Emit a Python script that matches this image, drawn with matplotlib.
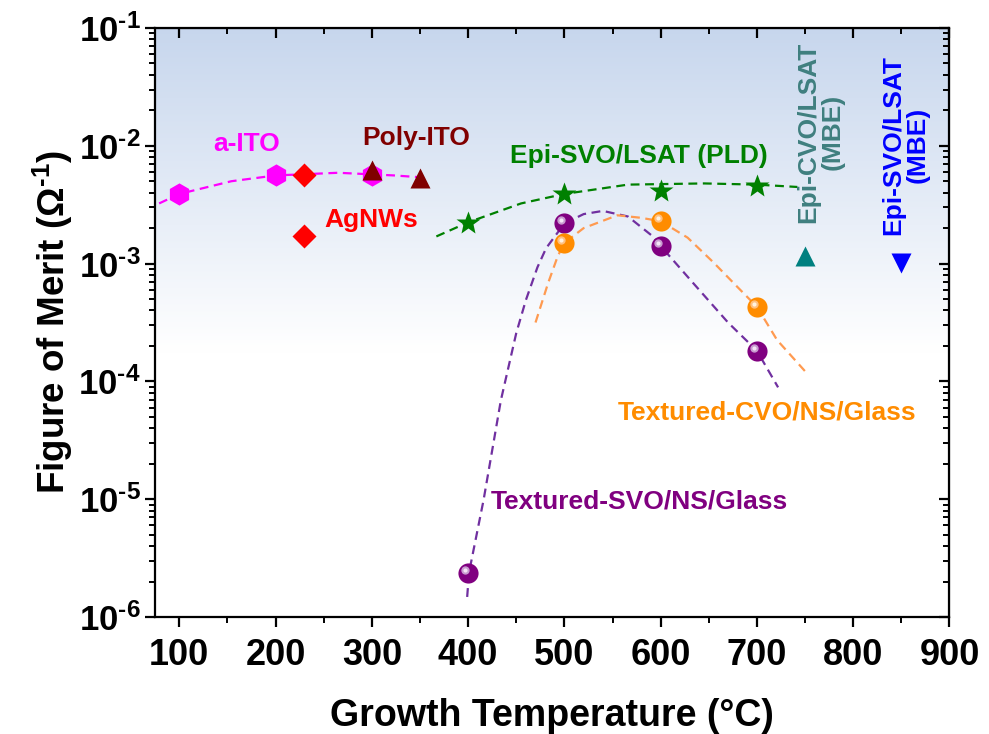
import numpy as np
import matplotlib
matplotlib.use("Agg")
import matplotlib.pyplot as plt
from matplotlib.ticker import LogLocator, MultipleLocator, FuncFormatter, NullFormatter
from matplotlib.transforms import offset_copy

plt.rcParams['font.family'] = ['Liberation Sans', 'DejaVu Sans']
plt.rcParams['font.weight'] = 'bold'
plt.rcParams['axes.labelweight'] = 'bold'
plt.rcParams['mathtext.fontset'] = 'custom'
plt.rcParams['mathtext.rm'] = 'Liberation Sans:bold'
plt.rcParams['mathtext.bf'] = 'Liberation Sans:bold'
plt.rcParams['mathtext.it'] = 'Liberation Sans:bold'

# measured points
ito_x = [100, 200, 300]
ito_y = [3.9e-3, 5.7e-3, 5.7e-3]
agnw_x = [230, 230]
agnw_y = [5.7e-3, 1.72e-3]
poly_x = [300, 350]
poly_y = [6.2e-3, 5.3e-3]
pld_x = [400, 500, 600, 700]
pld_y = [2.2e-3, 3.9e-3, 4.1e-3, 4.6e-3]
cvo_mbe_x = [750]
cvo_mbe_y = [1.17e-3]
svo_mbe_x = [850]
svo_mbe_y = [1.02e-3]
tsvo_x = [400, 500, 600, 700]
tsvo_y = [2.35e-6, 2.2e-3, 1.4e-3, 1.8e-4]
tcvo_x = [500, 600, 700]
tcvo_y = [1.5e-3, 2.3e-3, 4.3e-4]

# guide-to-the-eye curves
ito_fit_x = [79, 100, 154, 200, 265, 323, 351]
ito_fit_y = [3.24e-3, 3.9e-3, 5.0e-3, 5.6e-3, 5.9e-3, 5.6e-3, 5.4e-3]
pld_fit_x = [367, 400, 455, 500, 566, 645, 700, 742]
pld_fit_y = [1.70e-3, 2.24e-3, 3.24e-3, 3.9e-3, 4.68e-3, 4.79e-3, 4.68e-3, 4.47e-3]
tsvo_fit_x = [399, 401, 416, 425, 434, 450, 460, 472, 481, 500, 520, 540, 566, 590, 600, 634, 670, 700, 722]
tsvo_fit_y = [1.48e-6, 2.4e-6, 9.8e-6, 2.6e-5, 6.9e-5, 2.57e-4, 4.9e-4, 9.3e-4, 1.35e-3, 2.19e-3,
              2.63e-3, 2.8e-3, 2.51e-3, 1.75e-3, 1.41e-3, 6.8e-4, 3.16e-4, 1.82e-4, 8.9e-5]
tcvo_fit_x = [470, 483, 493, 500, 520, 555, 579, 600, 628, 655, 680, 700, 721, 752]
tcvo_fit_y = [3.16e-4, 6.8e-4, 1.15e-3, 1.5e-3, 2.0e-3, 2.57e-3, 2.45e-3, 2.29e-3, 1.66e-3,
              1.02e-3, 6.3e-4, 4.3e-4, 2.24e-4, 1.17e-4]

fig = plt.figure(figsize=(9.89, 7.34), dpi=100)
ax = fig.add_axes([0.157, 0.1594, 0.803, 0.8025])

# background gradient: white at bottom, light blue at top
h = np.linspace(0, 1, 256)
t = np.clip((h - 0.45) / 0.55, 0, 1)
top = np.array([0.78, 0.84, 0.93])
grad = (1 - t[:, None]) * np.array([1.0, 1.0, 1.0]) + t[:, None] * top
ax.imshow(grad[:, None, :], extent=[0, 1, 0, 1], transform=ax.transAxes,
          aspect='auto', origin='lower', zorder=0)

dash = (4, 2.5)
ax.plot(ito_fit_x, ito_fit_y, color='#ff00ff', lw=1.6, dashes=dash, zorder=2)
ax.plot(pld_fit_x, pld_fit_y, color='#008000', lw=1.6, dashes=dash, zorder=2)
ax.plot(tsvo_fit_x, tsvo_fit_y, color='#7030a0', lw=1.6, dashes=dash, zorder=2)
ax.plot(tcvo_fit_x, tcvo_fit_y, color='#ff9a50', lw=1.6, dashes=dash, zorder=2)

ax.plot(ito_x, ito_y, 'h', color='#ff00ff', ms=16, mec='none', zorder=3)
ax.plot(agnw_x, agnw_y, 'D', color='#ff0000', ms=12, mec='none', zorder=3)
ax.plot(poly_x, poly_y, '^', color='#800000', ms=14, mec='none', zorder=4)
ax.plot(pld_x, pld_y, '*', color='#008000', ms=18, mec='none', zorder=3)
ax.plot(cvo_mbe_x, cvo_mbe_y, '^', color='#008080', ms=15, mec='none', zorder=3)
ax.plot(svo_mbe_x, svo_mbe_y, 'v', color='#0000ff', ms=15, mec='none', zorder=3)

# spheres with a small highlight
hl = offset_copy(ax.transData, fig=fig, x=-3, y=3, units='dots')
ax.plot(tsvo_x, tsvo_y, 'o', color='#800080', ms=14.5, mec='none', zorder=4)
ax.plot(tsvo_x, tsvo_y, 'o', color='#c89ad0', ms=6, mec='none', zorder=5, transform=hl)
ax.plot(tsvo_x, tsvo_y, 'o', color='#f4e6f6', ms=3, mec='none', zorder=6, transform=hl)
ax.plot(tcvo_x, tcvo_y, 'o', color='#ff8c00', ms=14.5, mec='none', zorder=4)
ax.plot(tcvo_x, tcvo_y, 'o', color='#ffc080', ms=6, mec='none', zorder=5, transform=hl)
ax.plot(tcvo_x, tcvo_y, 'o', color='#fff2e0', ms=3, mec='none', zorder=6, transform=hl)

fs = 19
ax.text(170, 1.03e-2, 'a-ITO', color='#ff00ff', fontsize=fs, ha='center', va='center')
ax.text(346, 1.16e-2, 'Poly-ITO', color='#800000', fontsize=fs, ha='center', va='center')
ax.text(299, 2.35e-3, 'AgNWs', color='#ff0000', fontsize=fs, ha='center', va='center')
ax.text(577, 8.2e-3, 'Epi-SVO/LSAT (PLD)', color='#008000', fontsize=fs, ha='center', va='center')
ax.text(766, 1.3e-2, 'Epi-CVO/LSAT\n(MBE)', color='#3f7f7f', fontsize=fs, ha='center', va='center',
        rotation=90, linespacing=1.0)
ax.text(854, 1.02e-2, 'Epi-SVO/LSAT\n(MBE)', color='#0000ff', fontsize=fs, ha='center', va='center',
        rotation=90, linespacing=1.0)
ax.text(711, 5.4e-5, 'Textured-CVO/NS/Glass', color='#ff8c00', fontsize=fs, ha='center', va='center')
ax.text(578, 9.6e-6, 'Textured-SVO/NS/Glass', color='#800080', fontsize=fs, ha='center', va='center')

ax.set_yscale('log')
ax.set_xlim(75, 900)
ax.set_ylim(1e-6, 1e-1)

ax.xaxis.set_major_locator(MultipleLocator(100))
ax.xaxis.set_minor_locator(MultipleLocator(50))
ax.yaxis.set_major_locator(LogLocator(base=10, numticks=10))
ax.yaxis.set_minor_locator(LogLocator(base=10, subs=np.arange(2, 10), numticks=20))
ax.yaxis.set_minor_formatter(NullFormatter())
ax.yaxis.set_major_formatter(FuncFormatter(
    lambda v, p: r'$\mathbf{10^{\text{-%d}}}$' % abs(int(round(np.log10(v))))))

for s in ax.spines.values():
    s.set_linewidth(1.6)
ax.tick_params(axis='both', which='major', direction='out', length=7, width=1.6)
ax.tick_params(axis='both', which='minor', direction='out', length=4, width=1.4)
ax.tick_params(axis='y', labelsize=25)
ax.tick_params(axis='x', labelsize=26, pad=8)

# secondary axes for inward ticks on top and right
axt = ax.secondary_xaxis('top')
axt.xaxis.set_major_locator(MultipleLocator(100))
axt.xaxis.set_minor_locator(MultipleLocator(50))
axt.tick_params(which='major', direction='in', length=7, width=1.6, labeltop=False)
axt.tick_params(which='minor', direction='in', length=4, width=1.4)
axr = ax.secondary_yaxis('right')
axr.yaxis.set_major_locator(LogLocator(base=10, numticks=10))
axr.yaxis.set_minor_locator(LogLocator(base=10, subs=np.arange(2, 10), numticks=20))
axr.tick_params(which='major', direction='in', length=7, width=1.6, labelright=False)
axr.tick_params(which='minor', direction='in', length=4, width=1.4, labelright=False)
axr.yaxis.set_minor_formatter(NullFormatter())

ax.set_xlabel('Growth Temperature (°C)', fontsize=27, labelpad=18)
ax.set_ylabel(r'Figure of Merit ($\Omega^{\text{-1}}$)', fontsize=26.5, labelpad=2)

fig.savefig('out.png', dpi=100)
